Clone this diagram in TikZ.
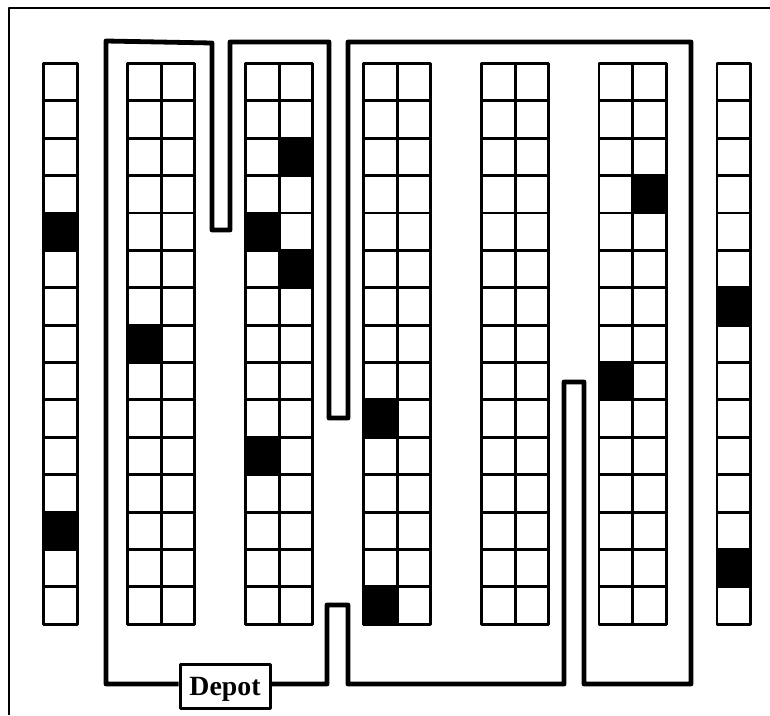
\documentclass[tikz,border=0pt]{standalone}
\usepackage{fontspec}
\setmainfont{Liberation Serif}
\begin{document}
\begin{tikzpicture}[x=1pt,y=-1pt,line join=round]
\tikzset{cell/.style={draw=black,line width=2.9pt},
  route/.style={draw=black,line width=4.8pt},
  depotbox/.style={draw=black,line width=3pt,fill=white,minimum width=90pt,minimum height=44pt,inner sep=0pt,text height=18pt,text depth=0pt,font=\fontsize{27.8}{30}\selectfont\bfseries}}
\def\rackCol#1#2{%
  \foreach \i in {0,...,14} \draw[cell] (#1,63.5+37.38*\i) rectangle ++(33.7,37.38);
  \foreach \i in {#2} \fill[cell,fill=black] (#1,63.5+37.38*\i) rectangle ++(33.7,37.38);}
\useasboundingbox (0,0) rectangle (770,715);
\draw[line width=2.9pt] (9,715) -- (9,8) -- (770,8);
\rackCol{43.5}{4,12}
\rackCol{127.5}{7}
\rackCol{161.2}{}
\rackCol{245.5}{4,10}
\rackCol{279.2}{2,5}
\rackCol{363.5}{9,14}
\rackCol{397.2}{}
\rackCol{481.5}{}
\rackCol{515.2}{}
\rackCol{599}{8}
\rackCol{632.7}{3}
\rackCol{717}{6,13}
\node[depotbox] (depot) at (225,686) {Depot};
\draw[route] ([yshift=2pt]depot.west) -- (106,684) -- (106,41) -- (212,43) -- (212,230) -- (230,230) -- (230,42) -- (329,42) -- (329,418) -- (348,418) -- (348,42) -- (691,42) -- (691,684) -- (584,684) -- (584,382) -- (564,382) -- (564,684) -- (348,684) -- (348,605) -- (327,605) -- (327,684) -- ([yshift=2pt]depot.east);
\end{tikzpicture}
\end{document}
